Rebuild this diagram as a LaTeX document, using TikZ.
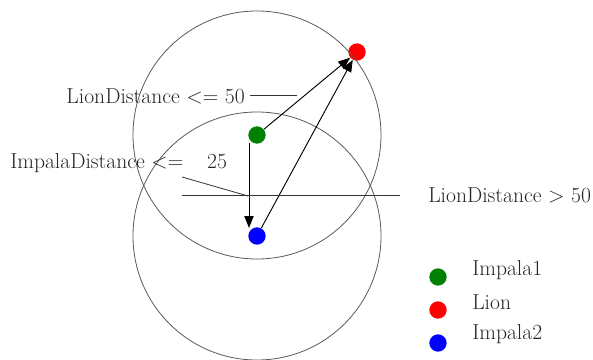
\documentclass[tikz,border=0pt]{standalone}
\usetikzlibrary{arrows.meta}
\begin{document}
\begin{tikzpicture}[x=0.75pt,y=-0.75pt,
  ring/.style={draw=black!65,line width=0.6pt},
  guide/.style={draw=black!80,line width=0.6pt},
  arr/.style={draw=black,line width=0.7pt,-{Triangle[length=9pt,width=7pt]}},
  dot/.style={circle,minimum size=13pt,inner sep=0pt},
  lbl/.style={font=\fontsize{16.2}{19}\selectfont,inner sep=0pt,text=black!85}]
\useasboundingbox (0,0) rectangle (593,360);
% dots
\node[dot,fill=green!50!black] (g) at (257,135) {};
\node[dot,fill=red] (r) at (357,52) {};
\node[dot,fill=blue] (b) at (257,236) {};
% circles
\draw[ring] (g) circle (124);
\draw[ring] (b) circle (124);
% arrows
\coordinate (gv) at (249,143);
\coordinate (bv) at (249,228);
\draw[arr] (gv) -- (bv);
\draw[arr] (g) -- (r);
\draw[arr] (b) -- (r);
% labels
\node[lbl,anchor=east] (ld) at (245,96) {LionDistance <= 50};
\coordinate (ld1) at (250,95);
\coordinate (ld2) at (297,95);
\draw[guide] (ld1) -- (ld2);
\node[lbl,anchor=west] (id) at (10,163) {ImpalaDistance <=\hspace{1.1em}25};
\coordinate (id1) at (182,177);
\coordinate (id2) at (248,196);
\draw[guide] (id1) -- (id2);
\coordinate (h1) at (182,195);
\coordinate (h2) at (400,195);
\draw[guide] (h1) -- (h2);
\node[lbl,anchor=west] (gt) at (428,195) {LionDistance > 50};
% legend
\node[dot,fill=green!50!black] (l1) at (438,277) {};
\node[dot,fill=red] (l2) at (438,310) {};
\node[dot,fill=blue] (l3) at (438,343) {};
\node[lbl,anchor=west] (t1) at (472,270) {Impala1};
\node[lbl,anchor=west] (t2) at (472,302) {Lion};
\node[lbl,anchor=west] (t3) at (472,334) {Impala2};
\end{tikzpicture}
\end{document}
